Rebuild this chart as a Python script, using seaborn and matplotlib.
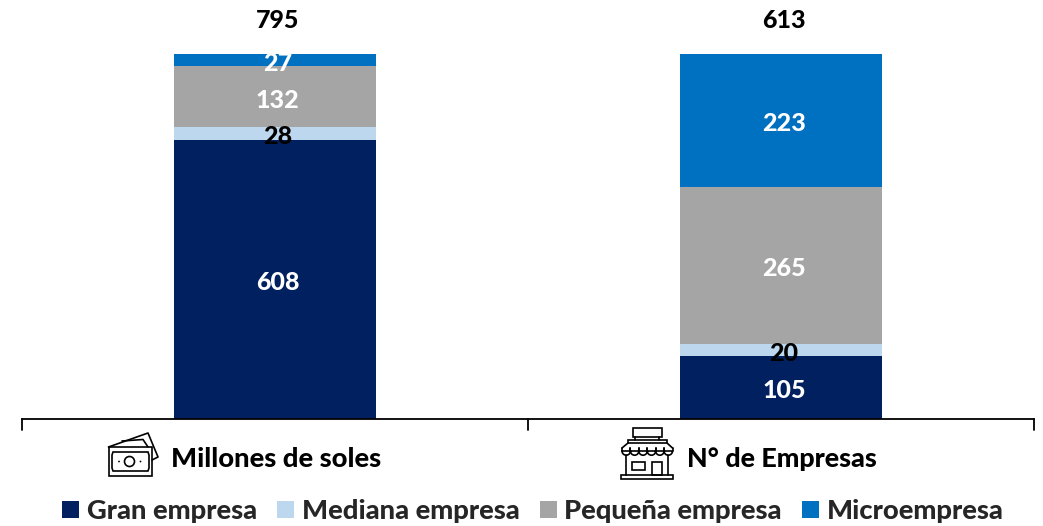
import numpy as np
import matplotlib
matplotlib.use('Agg')
import matplotlib.pyplot as plt
from matplotlib.patches import Circle, Polygon, Rectangle, Wedge
import seaborn as sns

categories = ['Millones de soles', 'N° de Empresas']
gran = [608, 105]
mediana = [28, 20]
pequena = [132, 265]
micro = [27, 223]
totals = [795, 613]

series_names = ['Gran empresa', 'Mediana empresa', 'Pequeña empresa', 'Microempresa']
series_values = [gran, mediana, pequena, micro]
series_colors = ['#002060', '#BDD7EE', '#A5A5A5', '#0070C0']
label_colors = ['white', 'black', 'white', 'white']

sns.set_theme(style='white')
plt.rcParams['font.family'] = ['Lato', 'DejaVu Sans']
W, H = 1043, 526
FS_NUM = 18
FS_TXT = 19.7
WEIGHT = 900

fig = plt.figure(figsize=(W / 100, H / 100), dpi=100)
ax = fig.add_axes([22 / W, 1 - 418.5 / H, 1012 / W, 364.4 / H])

# 100% stacked bars, labels show the original values
bottom = np.zeros(len(categories))
for name, values, color, text_color in zip(series_names, series_values, series_colors, label_colors):
    share = np.array(values) / np.array(totals)
    sns.barplot(x=categories, y=share, bottom=bottom, color=color, width=0.401,
                label=name, saturation=1, linewidth=0, ax=ax, legend=False)
    for i, v in enumerate(values):
        ax.annotate(str(v), (i, bottom[i] + share[i] / 2), xytext=(2, -1), textcoords='offset points',
                    ha='center', va='center_baseline', color=text_color,
                    fontsize=FS_NUM, fontweight=WEIGHT, clip_on=True)
    bottom += share

ax.set_xlim(-0.5, 1.5)
ax.set_ylim(0, 1)
ax.set_yticks([])
ax.set_xticks([])
ax.set_xlabel('')
for side in ['top', 'left', 'right']:
    ax.spines[side].set_visible(False)
ax.spines['bottom'].set_color('black')
ax.spines['bottom'].set_linewidth(1.3)

for i, t in enumerate(totals):
    ax.annotate(str(t), (i, 1.097), xytext=(2, 0), textcoords='offset points',
                ha='center', va='center_baseline', color='black',
                fontsize=FS_NUM, fontweight=WEIGHT, annotation_clip=False)

handles, labels = ax.get_legend_handles_labels()
fig.legend(handles, labels, ncol=4, loc='center', bbox_to_anchor=(533 / W, 1 - 511 / H),
           frameon=False, handlelength=0.62, handleheight=0.62,
           handletextpad=0.28, columnspacing=0.74, prop={'weight': WEIGHT, 'size': FS_TXT})

# overlay in pixel coordinates for the group separators, names and icons
ov = fig.add_axes([0, 0, 1, 1])
ov.set_xlim(0, W)
ov.set_ylim(H, 0)
ov.axis('off')
ov.patch.set_alpha(0)

for x in [22, 528, 1034]:
    ov.plot([x, x], [418.5, 430], color='black', lw=1.3)

ov.text(171, 457, categories[0], ha='left', va='center_baseline', color='black',
        fontsize=FS_TXT, fontweight=WEIGHT)
ov.text(687, 457, categories[1], ha='left', va='center_baseline', color='black',
        fontsize=FS_TXT - 0.3, fontweight=WEIGHT)


def draw_money(a):
    lw = 1.2
    kw = dict(fill=False, ec='black', lw=lw)
    a.add_patch(Rectangle((108.5, 447), 43, 29, **kw))
    a.add_patch(Polygon([(113, 452), (148, 452), (149, 455), (149, 468), (148, 471),
                         (113, 471), (112, 468), (112, 455)], closed=True, **kw))
    a.add_patch(Circle((129.5, 461.5), 5, **kw))
    a.plot([108.5, 148, 158, 152], [447, 433, 457, 460], color='black', lw=lw)
    a.plot([122, 143, 148], [441, 439.5, 447], color='black', lw=lw)
    a.add_patch(Circle((119, 461.5), 0.9, fc='black', ec='none'))
    a.add_patch(Circle((140.5, 461.5), 0.9, fc='black', ec='none'))


def draw_store(a):
    lw = 1.2
    kw = dict(fill=False, ec='black', lw=lw)
    a.add_patch(Rectangle((632.5, 427.5), 29, 9.5, **kw))
    a.plot([635, 635], [437, 440], color='black', lw=lw)
    a.plot([659, 659], [437, 440], color='black', lw=lw)
    a.add_patch(Rectangle((628, 440), 39, 3, **kw))
    # awning with scalloped lower edge
    edges = np.linspace(622, 672.5, 7)
    a.plot([628, 622], [443, 448], color='black', lw=lw)
    a.plot([667, 672.5], [443, 448], color='black', lw=lw)
    for left, right in zip(edges[:-1], edges[1:]):
        mid, r = (left + right) / 2, (right - left) / 2
        a.add_patch(Wedge((mid, 451), r, 0, 180, width=None, fill=False, ec='black', lw=lw))
        a.plot([left, left], [448, 451], color='black', lw=lw)
        a.plot([right, right], [448, 451], color='black', lw=lw)
    a.plot([626, 626], [455, 475], color='black', lw=lw)
    a.plot([668, 668], [455, 475], color='black', lw=lw)
    a.add_patch(Rectangle((632, 462), 13, 8, **kw))
    a.add_patch(Rectangle((652, 462), 10, 13, **kw))
    a.add_patch(Rectangle((621, 475), 52, 4, **kw))


draw_money(ov)
draw_store(ov)

fig.savefig('out.png', dpi=100)
plt.close(fig)
